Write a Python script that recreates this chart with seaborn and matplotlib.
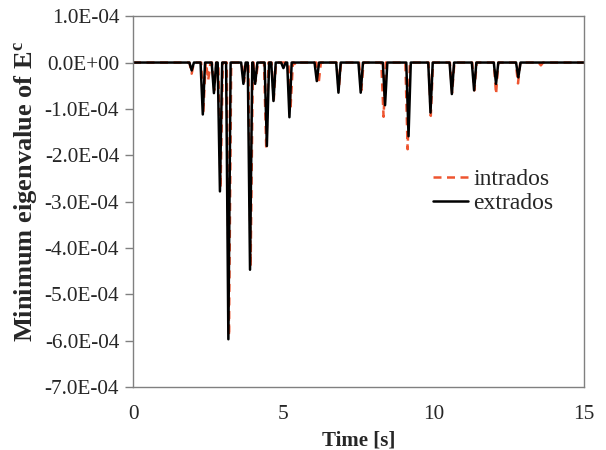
import numpy as np
import pandas as pd
import matplotlib
matplotlib.use("Agg")
import matplotlib.pyplot as plt
from matplotlib.ticker import FuncFormatter
import seaborn as sns

# ---- data ----
t_start, t_end = 0.0, 15.0
# extrados: spike times [s] and minimum values
ext_times = [1.95, 2.32, 2.69, 2.89, 3.17, 3.67, 3.89, 4.06, 4.45, 4.67, 5.00, 5.20,
             6.11, 6.83, 7.57, 8.38, 9.16, 9.89, 10.60, 11.34, 12.07, 12.81]
ext_vals = [-0.17e-4, -1.12e-4, -0.66e-4, -2.78e-4, -5.97e-4, -0.46e-4, -4.47e-4, -0.46e-4,
            -1.80e-4, -0.83e-4, -0.12e-4, -1.18e-4, -0.40e-4, -0.65e-4, -0.65e-4, -0.92e-4,
            -1.59e-4, -1.08e-4, -0.68e-4, -0.60e-4, -0.46e-4, -0.32e-4]
# intrados
int_times = [1.95, 2.34, 2.50, 2.70, 2.91, 3.19, 3.69, 3.91, 4.08, 4.43, 4.68, 5.24,
             5.42, 6.17, 6.84, 7.59, 8.33, 9.13, 9.90, 10.61, 11.35, 12.07, 12.80, 13.56]
int_vals = [-0.24e-4, -1.05e-4, -0.38e-4, -0.60e-4, -2.70e-4, -5.90e-4, -0.42e-4, -4.40e-4,
            -0.40e-4, -1.87e-4, -0.80e-4, -0.95e-4, -0.05e-4, -0.46e-4, -0.60e-4, -0.60e-4,
            -1.17e-4, -1.87e-4, -1.15e-4, -0.65e-4, -0.60e-4, -0.68e-4, -0.45e-4, -0.06e-4]

y_ticks = [1e-4, 0, -1e-4, -2e-4, -3e-4, -4e-4, -5e-4, -6e-4, -7e-4]
x_ticks = [0, 5, 10, 15]

HW = 0.075  # half width of a spike (style)


def series(times, vals):
    xs, ys = [t_start], [0.0]
    for t, v in zip(times, vals):
        xs += [t - HW, t, t + HW]
        ys += [0.0, v, 0.0]
    xs.append(t_end)
    ys.append(0.0)
    return pd.DataFrame({"t": xs, "v": ys})


df_int = series(int_times, int_vals)
df_ext = series(ext_times, ext_vals)

sns.set_style("white")
plt.rcParams["font.family"] = ["Liberation Serif", "DejaVu Serif"]
plt.rcParams["mathtext.fontset"] = "custom"
plt.rcParams["mathtext.rm"] = "Liberation Serif:bold"
plt.rcParams["mathtext.it"] = "Liberation Serif:bold"
plt.rcParams["mathtext.bf"] = "Liberation Serif:bold"

fig = plt.figure(figsize=(6.06, 4.5), dpi=100)
ax = fig.add_axes([0.2195, 0.14, 0.7445, 0.824])

sns.lineplot(data=df_int, x="t", y="v", ax=ax, color="#EE5530", linewidth=1.8,
             linestyle=(0, (3.2, 2.2)), estimator=None, sort=False, label="intrados")
sns.lineplot(data=df_ext, x="t", y="v", ax=ax, color="black", linewidth=1.8,
             estimator=None, sort=False, label="extrados")

ax.set_xlim(0, 15)
ax.set_ylim(-7e-4, 1e-4)
ax.set_xticks(x_ticks)
ax.set_yticks(y_ticks)
ax.yaxis.set_major_formatter(FuncFormatter(lambda v, p: "%.1E" % v))
ax.tick_params(axis="y", direction="out", length=6, width=1, color="#808080",
               labelsize=15.3, pad=4, left=True)
ax.tick_params(axis="x", length=0, labelsize=15.3, pad=13)
for s in ax.spines.values():
    s.set_color("#808080")
    s.set_linewidth(1)

ax.set_xlabel("Time [s]", fontsize=15, fontweight="bold", labelpad=5)
ax.set_ylabel(r"Minimum eigenvalue of E$^{c}$", fontsize=19, fontweight="bold")
ax.yaxis.set_label_coords(-0.209, 0.528)

leg = ax.legend(loc="center left", bbox_to_anchor=(0.665, 0.527), frameon=False,
                fontsize=17, handlelength=1.5, handletextpad=0.2, labelspacing=0.1,
                borderpad=0, borderaxespad=0)

fig.savefig("out.png", dpi=100)
